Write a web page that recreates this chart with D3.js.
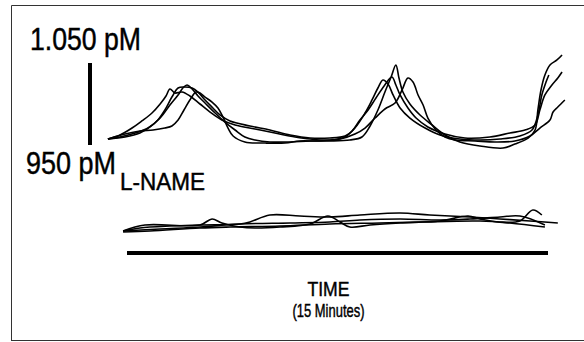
<!DOCTYPE html>
<html>
<head>
<meta charset="utf-8">
<script src="https://cdn.jsdelivr.net/npm/d3@7"></script>
<style>
  html, body { margin: 0; padding: 0; background: #fff; }
  svg { display: block; }
  text { font-family: 'Liberation Sans', Arial, sans-serif; fill: #000; stroke: #000; stroke-width: 0.45; }
</style>
</head>
<body>
<svg id="chart" width="584" height="342"></svg>
<script>
// ---- Data: time in minutes, concentration in pM ----
const scaleBarPM = [950, 1050];
const scaleBarLabels = ["950 pM", "1.050 pM"];
const timeBarMinutes = [0, 15];
const timeLabels = ["TIME", "(15 Minutes)"];
const treatmentLabel = "L-NAME";

// Control recordings (upper panel)
const control1 = [[-0.68,957.3],[-0.25,962.2],[0.18,970.7],[0.53,979.3],[0.89,989.0],[1.18,1000.0],[1.39,1009.8],[1.53,1018.3],[1.71,1013.4],[1.96,1014.6],[2.24,1009.8],[2.60,1000.0],[2.96,990.2],[3.38,980.5],[3.85,974.4],[4.56,969.5],[5.27,964.6],[5.99,959.8],[6.52,957.3],[7.23,956.1],[7.77,959.8],[8.12,970.7],[8.48,989.0],[8.73,1004.9],[8.94,1019.5],[9.12,1029.3],[9.30,1024.4],[9.48,1011.0],[9.73,995.1],[10.08,982.9],[10.62,970.7],[11.15,962.2],[11.86,957.3],[12.58,956.1],[13.29,957.3],[14.00,961.0],[14.43,968.3],[14.64,986.6],[14.78,1011.0],[14.93,1026.8],[15.03,1035.4]];
const control2 = [[-0.68,957.3],[-0.25,959.8],[0.29,964.6],[0.75,970.7],[1.18,982.9],[1.53,998.8],[1.82,1011.0],[1.99,1019.5],[2.14,1023.2],[2.32,1018.3],[2.53,1009.8],[2.78,1001.2],[3.14,989.0],[3.49,978.0],[3.85,968.3],[4.20,959.8],[4.56,956.1],[5.09,953.7],[5.81,953.7],[6.52,954.9],[7.23,954.9],[7.94,956.1],[8.37,959.8],[8.66,973.2],[8.94,992.7],[9.19,1014.6],[9.41,1032.9],[9.58,1047.6],[9.69,1031.7],[9.83,1014.6],[10.08,1000.0],[10.44,986.6],[10.87,974.4],[11.33,962.2],[11.86,953.7],[12.58,948.8],[13.40,946.3],[13.82,951.2],[14.29,958.5],[14.54,968.3],[14.64,992.7],[14.75,1017.1],[14.89,1035.4],[15.07,1047.6],[15.32,1053.7],[15.50,1059.8]];
const control3 = [[-0.68,957.3],[-0.07,959.8],[0.46,964.6],[0.82,972.0],[1.10,980.5],[1.35,992.7],[1.60,1008.5],[1.82,1019.5],[2.03,1020.7],[2.32,1019.5],[2.53,1014.6],[2.78,1004.9],[3.06,995.1],[3.31,986.6],[3.67,979.3],[4.38,973.2],[5.09,968.3],[5.81,962.2],[6.52,958.5],[7.23,958.5],[7.77,961.0],[8.02,967.1],[8.30,980.5],[8.59,992.7],[8.87,1007.3],[9.16,1022.0],[9.44,1032.9],[9.58,1023.2],[9.73,1011.0],[10.01,995.1],[10.30,982.9],[10.72,972.0],[11.33,963.4],[12.04,958.5],[12.93,959.8],[13.64,964.6],[14.18,968.3],[14.54,974.4],[14.71,992.7],[14.89,1011.0],[15.14,1023.2],[15.35,1031.7],[15.50,1039.0]];
const control4 = [[-0.68,957.3],[-0.07,963.4],[0.46,967.1],[0.93,968.3],[1.35,970.7],[1.60,973.2],[1.82,980.5],[2.03,992.7],[2.24,1004.9],[2.46,1014.6],[2.60,1013.4],[2.78,1008.5],[3.03,1002.4],[3.24,995.1],[3.42,984.1],[3.60,970.7],[3.78,961.0],[4.20,953.7],[4.92,952.4],[5.63,952.4],[6.16,954.9],[6.88,954.9],[7.59,957.3],[8.12,963.4],[8.48,970.7],[8.84,982.9],[9.19,993.9],[9.55,1001.2],[9.80,1017.1],[10.01,1031.7],[10.19,1026.8],[10.37,1011.0],[10.55,998.8],[10.72,982.9],[11.01,968.3],[11.33,959.8],[11.69,956.1],[12.40,954.9],[13.11,953.7],[13.82,954.9],[14.36,961.0],[14.71,970.7],[15.07,980.5],[15.18,990.2],[15.35,996.3],[15.60,1004.9]];

// L-NAME recordings (lower panel)
const lname1 = [[-0.14,951.2],[0.46,954.9],[1.53,957.3],[2.60,958.5],[4.03,959.8],[4.38,962.2],[5.09,970.7],[6.16,969.5],[7.23,968.3],[8.30,970.7],[9.73,973.2],[10.79,970.7],[12.22,968.3],[13.29,965.9],[14.36,963.4],[15.35,961.0]];
const lname2 = [[-0.14,951.2],[0.64,958.5],[2.60,958.5],[3.03,965.9],[3.38,961.0],[4.03,956.1],[4.56,954.9],[5.45,956.1],[6.52,959.8],[7.16,969.5],[7.59,962.2],[7.94,956.1],[8.66,958.5],[9.73,961.0],[11.15,963.4],[12.15,969.5],[12.58,965.9],[13.29,962.2],[14.00,963.4],[14.46,976.8],[14.78,970.7]];
const lname3 = [[-0.14,950.0],[0.82,951.2],[2.60,954.9],[3.67,956.1],[5.45,957.3],[7.23,959.8],[9.01,961.0],[10.44,962.2],[12.58,963.4],[13.64,961.0],[14.89,956.1]];
const lname4 = [[-0.14,951.2],[1.18,953.7],[2.60,956.1],[4.03,959.8],[5.81,961.0],[7.23,962.2],[8.30,964.6],[9.73,965.9],[11.15,964.6],[12.22,965.9],[13.29,968.3],[14.00,969.5],[14.89,958.5]];

const controlTraces = [control1, control2, control3, control4];
const lnameTraces = [lname1, lname2, lname3, lname4];

// ---- Drawing ----
const svg = d3.select("#chart");

// frame
svg.append("path")
  .attr("d", "M11.5,341 V5.5 H600 M11.5,340.5 H600")
  .attr("fill", "none").attr("stroke", "#333").attr("stroke-width", 1);

const x = d3.scaleLinear().domain(timeBarMinutes).range([127, 548]);
const yTop = d3.scaleLinear().domain(scaleBarPM).range([145, 63]);
const yBottom = d3.scaleLinear().domain(scaleBarPM).range([232, 150]);

const lineTop = d3.line().x(d => x(d[0])).y(d => yTop(d[1])).curve(d3.curveCatmullRom.alpha(0.5));
const lineBottom = d3.line().x(d => x(d[0])).y(d => yBottom(d[1])).curve(d3.curveCatmullRom.alpha(0.5));

svg.append("g").selectAll("path").data(controlTraces).join("path")
  .attr("d", lineTop).attr("fill", "none").attr("stroke", "#000")
  .attr("stroke-width", 1.6).attr("stroke-linejoin", "round");

svg.append("g").selectAll("path").data(lnameTraces).join("path")
  .attr("d", lineBottom).attr("fill", "none").attr("stroke", "#000")
  .attr("stroke-width", 1.6).attr("stroke-linejoin", "round");

// vertical concentration scale bar
svg.append("line")
  .attr("x1", 90).attr("x2", 90)
  .attr("y1", yTop(scaleBarPM[0])).attr("y2", yTop(scaleBarPM[1]))
  .attr("stroke", "#000").attr("stroke-width", 4);

function label(txt, xPos, yPos, size, len, anchor) {
  return svg.append("text").attr("x", xPos).attr("y", yPos)
    .attr("font-size", size)
    .attr("text-anchor", anchor || "start")
    .attr("textLength", len).attr("lengthAdjust", "spacingAndGlyphs")
    .text(txt);
}

label(scaleBarLabels[1], 30, 50, 31, 111);
label(scaleBarLabels[0], 26, 174, 31, 90);
label(treatmentLabel, 120, 190, 23, 85);

// horizontal time bar
svg.append("line")
  .attr("x1", x(timeBarMinutes[0])).attr("x2", x(timeBarMinutes[1]))
  .attr("y1", 253).attr("y2", 253)
  .attr("stroke", "#000").attr("stroke-width", 4);

const cx = (x(timeBarMinutes[0]) + x(timeBarMinutes[1])) / 2 - 9;
label(timeLabels[0], cx, 295.5, 21, 42, "middle");
label(timeLabels[1], cx, 317, 18.5, 72, "middle");
</script>
</body>
</html>
